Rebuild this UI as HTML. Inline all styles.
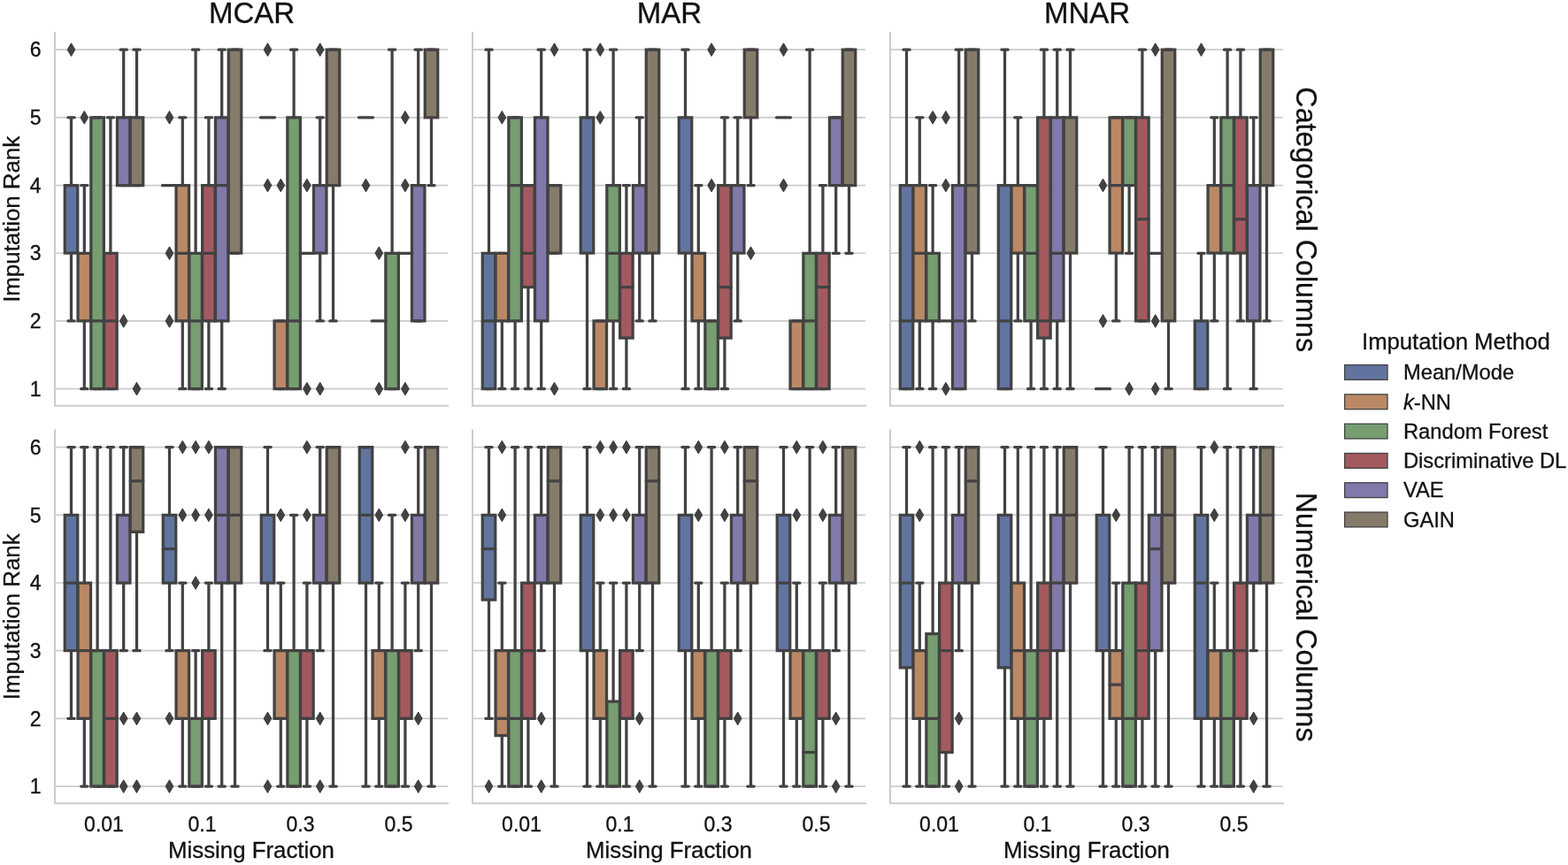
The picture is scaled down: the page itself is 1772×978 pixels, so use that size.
<!DOCTYPE html>
<html><head><meta charset="utf-8"><title>Imputation Rank boxplots</title>
<style>html,body{margin:0;padding:0;background:#fff;}svg{display:block;}</style>
</head><body>
<svg width="1772" height="978" viewBox="0 0 1772 978"><rect width="1772" height="978" fill="#ffffff"/><path d="M62 439.63H506M62 362.94H506M62 286.25H506M62 209.55H506M62 132.86H506M62 56.17H506M534 439.63H978M534 362.94H978M534 286.25H978M534 209.55H978M534 132.86H978M534 56.17H978M1006 439.63H1450M1006 362.94H1450M1006 286.25H1450M1006 209.55H1450M1006 132.86H1450M1006 56.17H1450M62 889.08H506M62 812.39H506M62 735.7H506M62 659H506M62 582.31H506M62 505.62H506M534 889.08H978M534 812.39H978M534 735.7H978M534 659H978M534 582.31H978M534 505.62H978M1006 889.08H1450M1006 812.39H1450M1006 735.7H1450M1006 659H1450M1006 582.31H1450M1006 505.62H1450" stroke="#cccccc" stroke-width="1.7" fill="none"/><path d="M62 37V458.8H506M534 37V458.8H978M1006 37V458.8H1450M62 486.45V908.25H506M534 486.45V908.25H978M1006 486.45V908.25H1450" stroke="#cccccc" stroke-width="2" fill="none" stroke-linejoin="miter" stroke-linecap="square"/><path d="M73.25 209.55h14.5v76.69h-14.5zM545.25 286.25h14.5v153.38h-14.5zM656.25 132.86h14.5v153.38h-14.5zM767.25 132.86h14.5v153.38h-14.5zM1017.25 209.55h14.5v230.07h-14.5zM1128.25 209.55h14.5v230.07h-14.5zM1350.25 362.94h14.5v76.69h-14.5zM73.25 582.31h14.5v153.38h-14.5zM184.25 582.31h14.5v76.69h-14.5zM295.25 582.31h14.5v76.69h-14.5zM406.25 505.62h14.5v153.38h-14.5zM545.25 582.31h14.5v95.86h-14.5zM656.25 582.31h14.5v153.38h-14.5zM767.25 582.31h14.5v153.38h-14.5zM878.25 582.31h14.5v153.38h-14.5zM1017.25 582.31h14.5v172.55h-14.5zM1128.25 582.31h14.5v172.55h-14.5zM1239.25 582.31h14.5v153.38h-14.5zM1350.25 582.31h14.5v230.07h-14.5z" fill="#6174a0" stroke="#424242" stroke-width="3.25" stroke-linejoin="miter"/><path d="M88.05 286.25h14.5v76.69h-14.5zM199.05 209.55h14.5v153.38h-14.5zM310.05 362.94h14.5v76.69h-14.5zM560.05 286.25h14.5v76.69h-14.5zM671.05 362.94h14.5v76.69h-14.5zM782.05 286.25h14.5v76.69h-14.5zM893.05 362.94h14.5v76.69h-14.5zM1032.05 209.55h14.5v153.38h-14.5zM1143.05 209.55h14.5v76.69h-14.5zM1254.05 132.86h14.5v153.38h-14.5zM1365.05 209.55h14.5v76.69h-14.5zM88.05 659h14.5v153.38h-14.5zM199.05 735.7h14.5v76.69h-14.5zM310.05 735.7h14.5v76.69h-14.5zM421.05 735.7h14.5v76.69h-14.5zM560.05 735.7h14.5v95.86h-14.5zM671.05 735.7h14.5v76.69h-14.5zM782.05 735.7h14.5v76.69h-14.5zM893.05 735.7h14.5v76.69h-14.5zM1032.05 735.7h14.5v76.69h-14.5zM1143.05 659h14.5v153.38h-14.5zM1254.05 735.7h14.5v76.69h-14.5zM1365.05 735.7h14.5v76.69h-14.5z" fill="#ba8864" stroke="#424242" stroke-width="3.25" stroke-linejoin="miter"/><path d="M102.85 132.86h14.5v306.76h-14.5zM213.85 286.25h14.5v153.38h-14.5zM324.85 132.86h14.5v306.76h-14.5zM435.85 286.25h14.5v153.38h-14.5zM574.85 132.86h14.5v230.07h-14.5zM685.85 209.55h14.5v153.38h-14.5zM796.85 362.94h14.5v76.69h-14.5zM907.85 286.25h14.5v153.38h-14.5zM1046.85 286.25h14.5v76.69h-14.5zM1157.85 209.55h14.5v153.38h-14.5zM1268.85 132.86h14.5v76.69h-14.5zM1379.85 132.86h14.5v153.38h-14.5zM102.85 735.7h14.5v153.38h-14.5zM213.85 812.39h14.5v76.69h-14.5zM324.85 735.7h14.5v153.38h-14.5zM435.85 735.7h14.5v153.38h-14.5zM574.85 735.7h14.5v153.38h-14.5zM685.85 793.21h14.5v95.86h-14.5zM796.85 735.7h14.5v153.38h-14.5zM907.85 735.7h14.5v153.38h-14.5zM1046.85 716.52h14.5v172.55h-14.5zM1157.85 735.7h14.5v153.38h-14.5zM1268.85 659h14.5v230.07h-14.5zM1379.85 735.7h14.5v153.38h-14.5z" fill="#769e71" stroke="#424242" stroke-width="3.25" stroke-linejoin="miter"/><path d="M117.65 286.25h14.5v153.38h-14.5zM228.65 209.55h14.5v153.38h-14.5zM589.65 209.55h14.5v115.04h-14.5zM700.65 286.25h14.5v95.86h-14.5zM811.65 209.55h14.5v172.55h-14.5zM922.65 286.25h14.5v153.38h-14.5zM1172.65 132.86h14.5v249.25h-14.5zM1283.65 132.86h14.5v230.07h-14.5zM1394.65 132.86h14.5v153.38h-14.5zM117.65 735.7h14.5v153.38h-14.5zM228.65 735.7h14.5v76.69h-14.5zM339.65 735.7h14.5v76.69h-14.5zM450.65 735.7h14.5v76.69h-14.5zM589.65 659h14.5v153.38h-14.5zM700.65 735.7h14.5v76.69h-14.5zM811.65 735.7h14.5v76.69h-14.5zM922.65 735.7h14.5v76.69h-14.5zM1061.65 659h14.5v191.73h-14.5zM1172.65 659h14.5v153.38h-14.5zM1283.65 659h14.5v153.38h-14.5zM1394.65 659h14.5v153.38h-14.5z" fill="#a35a5f" stroke="#424242" stroke-width="3.25" stroke-linejoin="miter"/><path d="M132.45 132.86h14.5v76.69h-14.5zM243.45 132.86h14.5v230.07h-14.5zM354.45 209.55h14.5v76.69h-14.5zM465.45 209.55h14.5v153.38h-14.5zM604.45 132.86h14.5v230.07h-14.5zM715.45 209.55h14.5v76.69h-14.5zM826.45 209.55h14.5v76.69h-14.5zM937.45 132.86h14.5v76.69h-14.5zM1076.45 209.55h14.5v230.07h-14.5zM1187.45 132.86h14.5v230.07h-14.5zM1409.45 209.55h14.5v153.38h-14.5zM132.45 582.31h14.5v76.69h-14.5zM243.45 505.62h14.5v153.38h-14.5zM354.45 582.31h14.5v76.69h-14.5zM465.45 582.31h14.5v76.69h-14.5zM604.45 582.31h14.5v76.69h-14.5zM715.45 582.31h14.5v76.69h-14.5zM826.45 582.31h14.5v76.69h-14.5zM937.45 582.31h14.5v76.69h-14.5zM1076.45 582.31h14.5v76.69h-14.5zM1187.45 582.31h14.5v153.38h-14.5zM1298.45 582.31h14.5v153.38h-14.5zM1409.45 582.31h14.5v76.69h-14.5z" fill="#8079aa" stroke="#424242" stroke-width="3.25" stroke-linejoin="miter"/><path d="M147.25 132.86h14.5v76.69h-14.5zM258.25 56.17h14.5v230.07h-14.5zM369.25 56.17h14.5v153.38h-14.5zM480.25 56.17h14.5v76.69h-14.5zM619.25 209.55h14.5v76.69h-14.5zM730.25 56.17h14.5v230.07h-14.5zM841.25 56.17h14.5v76.69h-14.5zM952.25 56.17h14.5v153.38h-14.5zM1091.25 56.17h14.5v230.07h-14.5zM1202.25 132.86h14.5v153.38h-14.5zM1313.25 56.17h14.5v306.76h-14.5zM1424.25 56.17h14.5v153.38h-14.5zM147.25 505.62h14.5v95.86h-14.5zM258.25 505.62h14.5v153.38h-14.5zM369.25 505.62h14.5v153.38h-14.5zM480.25 505.62h14.5v153.38h-14.5zM619.25 505.62h14.5v153.38h-14.5zM730.25 505.62h14.5v153.38h-14.5zM841.25 505.62h14.5v153.38h-14.5zM952.25 505.62h14.5v153.38h-14.5zM1091.25 505.62h14.5v153.38h-14.5zM1202.25 505.62h14.5v153.38h-14.5zM1313.25 505.62h14.5v153.38h-14.5zM1424.25 505.62h14.5v153.38h-14.5z" fill="#867b6a" stroke="#424242" stroke-width="3.25" stroke-linejoin="miter"/><path d="M80.5 286.25V362.94M80.5 209.55V132.86M76.87 362.94H84.13M76.87 132.86H84.13M95.3 362.94V439.63M95.3 286.25V209.55M91.67 439.63H98.93M91.67 209.55H98.93M106.47 439.63H113.73M106.47 132.86H113.73M102.85 362.94H117.35M124.9 286.25V132.86M121.27 439.63H128.53M121.27 132.86H128.53M117.65 362.94H132.15M139.7 132.86V56.17M136.07 209.55H143.33M136.07 56.17H143.33M154.5 132.86V56.17M150.87 209.55H158.13M150.87 56.17H158.13M183.45 209.55H199.55M187.87 209.55H195.13M187.87 209.55H195.13M206.3 362.94V439.63M206.3 209.55V132.86M202.67 439.63H209.93M202.67 132.86H209.93M199.05 286.25H213.55M221.1 286.25V56.17M217.47 439.63H224.73M217.47 56.17H224.73M213.85 362.94H228.35M235.9 362.94V439.63M235.9 209.55V132.86M232.27 439.63H239.53M232.27 132.86H239.53M228.65 286.25H243.15M250.7 362.94V439.63M250.7 132.86V56.17M247.07 439.63H254.33M247.07 56.17H254.33M243.45 209.55H257.95M261.87 286.25H269.13M261.87 56.17H269.13M294.45 132.86H310.55M298.87 132.86H306.13M298.87 132.86H306.13M313.67 439.63H320.93M313.67 362.94H320.93M332.1 132.86V56.17M328.47 439.63H335.73M328.47 56.17H335.73M324.85 362.94H339.35M338.85 286.25H354.95M343.27 286.25H350.53M343.27 286.25H350.53M361.7 286.25V362.94M361.7 209.55V132.86M358.07 362.94H365.33M358.07 132.86H365.33M376.5 209.55V362.94M372.87 362.94H380.13M372.87 56.17H380.13M405.45 132.86H421.55M409.87 132.86H417.13M409.87 132.86H417.13M420.25 362.94H436.35M424.67 362.94H431.93M424.67 362.94H431.93M443.1 286.25V56.17M439.47 439.63H446.73M439.47 56.17H446.73M449.85 286.25H465.95M454.27 286.25H461.53M454.27 286.25H461.53M472.7 209.55V56.17M469.07 362.94H476.33M469.07 56.17H476.33M487.5 132.86V209.55M483.87 209.55H491.13M483.87 56.17H491.13M552.5 286.25V56.17M548.87 439.63H556.13M548.87 56.17H556.13M545.25 362.94H559.75M567.3 362.94V439.63M563.67 439.63H570.93M563.67 286.25H570.93M582.1 362.94V439.63M578.47 439.63H585.73M578.47 132.86H585.73M574.85 209.55H589.35M596.9 324.59V439.63M593.27 439.63H600.53M593.27 209.55H600.53M589.65 286.25H604.15M611.7 362.94V439.63M611.7 132.86V56.17M608.07 439.63H615.33M608.07 56.17H615.33M622.87 286.25H630.13M622.87 209.55H630.13M663.5 286.25V439.63M663.5 132.86V56.17M659.87 439.63H667.13M659.87 56.17H667.13M674.67 439.63H681.93M674.67 362.94H681.93M693.1 362.94V439.63M693.1 209.55V56.17M689.47 439.63H696.73M689.47 56.17H696.73M685.85 286.25H700.35M707.9 382.11V439.63M707.9 286.25V209.55M704.27 439.63H711.53M704.27 209.55H711.53M700.65 324.59H715.15M722.7 286.25V362.94M722.7 209.55V132.86M719.07 362.94H726.33M719.07 132.86H726.33M737.5 286.25V362.94M733.87 362.94H741.13M733.87 56.17H741.13M774.5 286.25V439.63M774.5 132.86V56.17M770.87 439.63H778.13M770.87 56.17H778.13M789.3 362.94V439.63M789.3 286.25V209.55M785.67 439.63H792.93M785.67 209.55H792.93M800.47 439.63H807.73M800.47 362.94H807.73M818.9 382.11V439.63M818.9 209.55V132.86M815.27 439.63H822.53M815.27 132.86H822.53M811.65 324.59H826.15M833.7 286.25V362.94M833.7 209.55V132.86M830.07 362.94H837.33M830.07 132.86H837.33M848.5 132.86V209.55M844.87 209.55H852.13M844.87 56.17H852.13M877.45 132.86H893.55M881.87 132.86H889.13M881.87 132.86H889.13M896.67 439.63H903.93M896.67 362.94H903.93M915.1 286.25V56.17M911.47 439.63H918.73M911.47 56.17H918.73M907.85 362.94H922.35M929.9 286.25V209.55M926.27 439.63H933.53M926.27 209.55H933.53M922.65 324.59H937.15M944.7 209.55V286.25M941.07 286.25H948.33M941.07 132.86H948.33M959.5 209.55V286.25M955.87 286.25H963.13M955.87 56.17H963.13M1024.5 209.55V56.17M1020.87 439.63H1028.13M1020.87 56.17H1028.13M1017.25 362.94H1031.75M1039.3 362.94V439.63M1039.3 209.55V132.86M1035.67 439.63H1042.93M1035.67 132.86H1042.93M1032.05 286.25H1046.55M1054.1 362.94V439.63M1054.1 286.25V209.55M1050.47 439.63H1057.73M1050.47 209.55H1057.73M1060.85 362.94H1076.95M1065.27 362.94H1072.53M1065.27 362.94H1072.53M1083.7 209.55V56.17M1080.07 439.63H1087.33M1080.07 56.17H1087.33M1076.45 362.94H1090.95M1098.5 286.25V362.94M1094.87 362.94H1102.13M1094.87 56.17H1102.13M1091.25 209.55H1105.75M1135.5 209.55V56.17M1131.87 439.63H1139.13M1131.87 56.17H1139.13M1128.25 362.94H1142.75M1150.3 286.25V362.94M1150.3 209.55V132.86M1146.67 362.94H1153.93M1146.67 132.86H1153.93M1165.1 362.94V439.63M1161.47 439.63H1168.73M1161.47 209.55H1168.73M1157.85 286.25H1172.35M1179.9 382.11V439.63M1179.9 132.86V56.17M1176.27 439.63H1183.53M1176.27 56.17H1183.53M1172.65 362.94H1187.15M1194.7 362.94V439.63M1194.7 132.86V56.17M1191.07 439.63H1198.33M1191.07 56.17H1198.33M1187.45 286.25H1201.95M1209.5 286.25V439.63M1209.5 132.86V56.17M1205.87 439.63H1213.13M1205.87 56.17H1213.13M1238.45 439.63H1254.55M1242.87 439.63H1250.13M1242.87 439.63H1250.13M1261.3 286.25V362.94M1257.67 362.94H1264.93M1257.67 132.86H1264.93M1254.05 209.55H1268.55M1276.1 209.55V286.25M1272.47 286.25H1279.73M1272.47 132.86H1279.73M1290.9 132.86V56.17M1287.27 362.94H1294.53M1287.27 56.17H1294.53M1283.65 247.9H1298.15M1297.65 286.25H1313.75M1302.07 286.25H1309.33M1302.07 286.25H1309.33M1320.5 362.94V439.63M1316.87 439.63H1324.13M1316.87 56.17H1324.13M1357.5 362.94V286.25M1353.87 439.63H1361.13M1353.87 286.25H1361.13M1372.3 286.25V362.94M1372.3 209.55V132.86M1368.67 362.94H1375.93M1368.67 132.86H1375.93M1387.1 286.25V439.63M1387.1 132.86V56.17M1383.47 439.63H1390.73M1383.47 56.17H1390.73M1379.85 209.55H1394.35M1401.9 286.25V362.94M1401.9 132.86V56.17M1398.27 362.94H1405.53M1398.27 56.17H1405.53M1394.65 247.9H1409.15M1416.7 362.94V439.63M1416.7 209.55V132.86M1413.07 439.63H1420.33M1413.07 132.86H1420.33M1431.5 209.55V362.94M1427.87 362.94H1435.13M1427.87 56.17H1435.13M80.5 735.7V812.39M80.5 582.31V505.62M76.87 812.39H84.13M76.87 505.62H84.13M73.25 659H87.75M95.3 812.39V889.08M95.3 659V505.62M91.67 889.08H98.93M91.67 505.62H98.93M88.05 735.7H102.55M110.1 735.7V505.62M106.47 889.08H113.73M106.47 505.62H113.73M124.9 735.7V505.62M121.27 889.08H128.53M121.27 505.62H128.53M117.65 812.39H132.15M139.7 659V735.7M139.7 582.31V505.62M136.07 735.7H143.33M136.07 505.62H143.33M154.5 601.49V735.7M150.87 735.7H158.13M150.87 505.62H158.13M147.25 543.97H161.75M191.5 659V735.7M191.5 582.31V505.62M187.87 735.7H195.13M187.87 505.62H195.13M184.25 620.66H198.75M206.3 812.39V889.08M206.3 735.7V659M202.67 889.08H209.93M202.67 659H209.93M221.1 812.39V735.7M217.47 889.08H224.73M217.47 735.7H224.73M235.9 812.39V889.08M235.9 735.7V659M232.27 889.08H239.53M232.27 659H239.53M250.7 659V889.08M247.07 889.08H254.33M247.07 505.62H254.33M243.45 582.31H257.95M265.5 659V889.08M261.87 889.08H269.13M261.87 505.62H269.13M258.25 582.31H272.75M302.5 659V735.7M302.5 582.31V505.62M298.87 735.7H306.13M298.87 505.62H306.13M317.3 812.39V889.08M317.3 735.7V659M313.67 889.08H320.93M313.67 659H320.93M332.1 735.7V582.31M328.47 889.08H335.73M328.47 582.31H335.73M346.9 812.39V889.08M346.9 735.7V659M343.27 889.08H350.53M343.27 659H350.53M361.7 659V735.7M361.7 582.31V505.62M358.07 735.7H365.33M358.07 505.62H365.33M376.5 659V889.08M372.87 889.08H380.13M372.87 505.62H380.13M413.5 659V889.08M409.87 889.08H417.13M409.87 505.62H417.13M406.25 582.31H420.75M428.3 812.39V889.08M428.3 735.7V659M424.67 889.08H431.93M424.67 659H431.93M443.1 735.7V582.31M439.47 889.08H446.73M439.47 582.31H446.73M457.9 812.39V889.08M457.9 735.7V659M454.27 889.08H461.53M454.27 659H461.53M472.7 659V735.7M472.7 582.31V505.62M469.07 735.7H476.33M469.07 505.62H476.33M487.5 659V889.08M483.87 889.08H491.13M483.87 505.62H491.13M552.5 678.18V812.39M552.5 582.31V505.62M548.87 812.39H556.13M548.87 505.62H556.13M545.25 620.66H559.75M567.3 831.56V889.08M567.3 735.7V659M563.67 889.08H570.93M563.67 659H570.93M560.05 812.39H574.55M582.1 735.7V505.62M578.47 889.08H585.73M578.47 505.62H585.73M574.85 812.39H589.35M596.9 812.39V889.08M596.9 659V505.62M593.27 889.08H600.53M593.27 505.62H600.53M589.65 735.7H604.15M611.7 659V735.7M611.7 582.31V505.62M608.07 735.7H615.33M608.07 505.62H615.33M626.5 659V889.08M622.87 889.08H630.13M622.87 505.62H630.13M619.25 543.97H633.75M663.5 735.7V889.08M663.5 582.31V505.62M659.87 889.08H667.13M659.87 505.62H667.13M678.3 812.39V889.08M678.3 735.7V659M674.67 889.08H681.93M674.67 659H681.93M693.1 793.21V659M689.47 889.08H696.73M689.47 659H696.73M707.9 812.39V889.08M707.9 735.7V659M704.27 889.08H711.53M704.27 659H711.53M722.7 659V735.7M722.7 582.31V505.62M719.07 735.7H726.33M719.07 505.62H726.33M737.5 659V889.08M733.87 889.08H741.13M733.87 505.62H741.13M730.25 543.97H744.75M774.5 735.7V889.08M774.5 582.31V505.62M770.87 889.08H778.13M770.87 505.62H778.13M789.3 812.39V889.08M789.3 735.7V659M785.67 889.08H792.93M785.67 659H792.93M804.1 735.7V505.62M800.47 889.08H807.73M800.47 505.62H807.73M818.9 812.39V889.08M818.9 735.7V659M815.27 889.08H822.53M815.27 659H822.53M833.7 659V735.7M833.7 582.31V505.62M830.07 735.7H837.33M830.07 505.62H837.33M848.5 659V889.08M844.87 889.08H852.13M844.87 505.62H852.13M841.25 543.97H855.75M885.5 735.7V889.08M885.5 582.31V505.62M881.87 889.08H889.13M881.87 505.62H889.13M878.25 659H892.75M900.3 812.39V889.08M900.3 735.7V659M896.67 889.08H903.93M896.67 659H903.93M915.1 735.7V505.62M911.47 889.08H918.73M911.47 505.62H918.73M907.85 850.73H922.35M929.9 812.39V889.08M929.9 735.7V659M926.27 889.08H933.53M926.27 659H933.53M944.7 659V735.7M944.7 582.31V505.62M941.07 735.7H948.33M941.07 505.62H948.33M959.5 659V889.08M955.87 889.08H963.13M955.87 505.62H963.13M1024.5 754.87V889.08M1024.5 582.31V505.62M1020.87 889.08H1028.13M1020.87 505.62H1028.13M1017.25 659H1031.75M1039.3 812.39V889.08M1039.3 735.7V659M1035.67 889.08H1042.93M1035.67 659H1042.93M1054.1 716.52V505.62M1050.47 889.08H1057.73M1050.47 505.62H1057.73M1046.85 812.39H1061.35M1068.9 850.73V889.08M1068.9 659V505.62M1065.27 889.08H1072.53M1065.27 505.62H1072.53M1061.65 735.7H1076.15M1083.7 659V735.7M1083.7 582.31V505.62M1080.07 735.7H1087.33M1080.07 505.62H1087.33M1098.5 659V889.08M1094.87 889.08H1102.13M1094.87 505.62H1102.13M1091.25 543.97H1105.75M1135.5 754.87V889.08M1135.5 582.31V505.62M1131.87 889.08H1139.13M1131.87 505.62H1139.13M1150.3 812.39V889.08M1150.3 659V505.62M1146.67 889.08H1153.93M1146.67 505.62H1153.93M1143.05 735.7H1157.55M1165.1 735.7V505.62M1161.47 889.08H1168.73M1161.47 505.62H1168.73M1157.85 812.39H1172.35M1179.9 812.39V889.08M1179.9 659V505.62M1176.27 889.08H1183.53M1176.27 505.62H1183.53M1172.65 735.7H1187.15M1194.7 735.7V889.08M1194.7 582.31V505.62M1191.07 889.08H1198.33M1191.07 505.62H1198.33M1187.45 659H1201.95M1209.5 659V889.08M1205.87 889.08H1213.13M1205.87 505.62H1213.13M1202.25 582.31H1216.75M1246.5 735.7V889.08M1246.5 582.31V505.62M1242.87 889.08H1250.13M1242.87 505.62H1250.13M1261.3 812.39V889.08M1261.3 735.7V659M1257.67 889.08H1264.93M1257.67 659H1264.93M1254.05 774.04H1268.55M1276.1 659V505.62M1272.47 889.08H1279.73M1272.47 505.62H1279.73M1268.85 812.39H1283.35M1290.9 812.39V889.08M1290.9 659V505.62M1287.27 889.08H1294.53M1287.27 505.62H1294.53M1283.65 735.7H1298.15M1305.7 735.7V889.08M1305.7 582.31V505.62M1302.07 889.08H1309.33M1302.07 505.62H1309.33M1298.45 620.66H1312.95M1320.5 659V889.08M1316.87 889.08H1324.13M1316.87 505.62H1324.13M1313.25 582.31H1327.75M1357.5 812.39V889.08M1357.5 582.31V505.62M1353.87 889.08H1361.13M1353.87 505.62H1361.13M1350.25 659H1364.75M1372.3 812.39V889.08M1372.3 735.7V659M1368.67 889.08H1375.93M1368.67 659H1375.93M1387.1 735.7V505.62M1383.47 889.08H1390.73M1383.47 505.62H1390.73M1379.85 812.39H1394.35M1401.9 812.39V889.08M1401.9 659V505.62M1398.27 889.08H1405.53M1398.27 505.62H1405.53M1394.65 735.7H1409.15M1416.7 659V735.7M1416.7 582.31V505.62M1413.07 735.7H1420.33M1413.07 505.62H1420.33M1431.5 659V889.08M1427.87 889.08H1435.13M1427.87 505.62H1435.13M1424.25 582.31H1438.75" stroke="#424242" stroke-width="3.25" stroke-linecap="round" fill="none"/><path d="M80.5 48.82l4.35 7.35l-4.35 7.35l-4.35 -7.35zM95.3 125.51l4.35 7.35l-4.35 7.35l-4.35 -7.35zM139.7 355.59l4.35 7.35l-4.35 7.35l-4.35 -7.35zM154.5 432.28l4.35 7.35l-4.35 7.35l-4.35 -7.35zM191.5 125.51l4.35 7.35l-4.35 7.35l-4.35 -7.35zM191.5 278.9l4.35 7.35l-4.35 7.35l-4.35 -7.35zM191.5 355.59l4.35 7.35l-4.35 7.35l-4.35 -7.35zM302.5 48.82l4.35 7.35l-4.35 7.35l-4.35 -7.35zM302.5 202.2l4.35 7.35l-4.35 7.35l-4.35 -7.35zM317.3 202.2l4.35 7.35l-4.35 7.35l-4.35 -7.35zM346.9 202.2l4.35 7.35l-4.35 7.35l-4.35 -7.35zM346.9 432.28l4.35 7.35l-4.35 7.35l-4.35 -7.35zM361.7 48.82l4.35 7.35l-4.35 7.35l-4.35 -7.35zM361.7 432.28l4.35 7.35l-4.35 7.35l-4.35 -7.35zM413.5 202.2l4.35 7.35l-4.35 7.35l-4.35 -7.35zM428.3 278.9l4.35 7.35l-4.35 7.35l-4.35 -7.35zM428.3 432.28l4.35 7.35l-4.35 7.35l-4.35 -7.35zM457.9 125.51l4.35 7.35l-4.35 7.35l-4.35 -7.35zM457.9 202.2l4.35 7.35l-4.35 7.35l-4.35 -7.35zM457.9 432.28l4.35 7.35l-4.35 7.35l-4.35 -7.35zM567.3 125.51l4.35 7.35l-4.35 7.35l-4.35 -7.35zM626.5 48.82l4.35 7.35l-4.35 7.35l-4.35 -7.35zM626.5 432.28l4.35 7.35l-4.35 7.35l-4.35 -7.35zM678.3 48.82l4.35 7.35l-4.35 7.35l-4.35 -7.35zM678.3 125.51l4.35 7.35l-4.35 7.35l-4.35 -7.35zM804.1 48.82l4.35 7.35l-4.35 7.35l-4.35 -7.35zM804.1 202.2l4.35 7.35l-4.35 7.35l-4.35 -7.35zM848.5 278.9l4.35 7.35l-4.35 7.35l-4.35 -7.35zM885.5 48.82l4.35 7.35l-4.35 7.35l-4.35 -7.35zM885.5 202.2l4.35 7.35l-4.35 7.35l-4.35 -7.35zM1054.1 125.51l4.35 7.35l-4.35 7.35l-4.35 -7.35zM1068.9 125.51l4.35 7.35l-4.35 7.35l-4.35 -7.35zM1068.9 202.2l4.35 7.35l-4.35 7.35l-4.35 -7.35zM1068.9 432.28l4.35 7.35l-4.35 7.35l-4.35 -7.35zM1246.5 202.2l4.35 7.35l-4.35 7.35l-4.35 -7.35zM1246.5 355.59l4.35 7.35l-4.35 7.35l-4.35 -7.35zM1276.1 432.28l4.35 7.35l-4.35 7.35l-4.35 -7.35zM1305.7 48.82l4.35 7.35l-4.35 7.35l-4.35 -7.35zM1305.7 355.59l4.35 7.35l-4.35 7.35l-4.35 -7.35zM1305.7 432.28l4.35 7.35l-4.35 7.35l-4.35 -7.35zM1357.5 48.82l4.35 7.35l-4.35 7.35l-4.35 -7.35zM139.7 805.04l4.35 7.35l-4.35 7.35l-4.35 -7.35zM139.7 881.73l4.35 7.35l-4.35 7.35l-4.35 -7.35zM154.5 805.04l4.35 7.35l-4.35 7.35l-4.35 -7.35zM154.5 881.73l4.35 7.35l-4.35 7.35l-4.35 -7.35zM191.5 805.04l4.35 7.35l-4.35 7.35l-4.35 -7.35zM191.5 881.73l4.35 7.35l-4.35 7.35l-4.35 -7.35zM206.3 498.27l4.35 7.35l-4.35 7.35l-4.35 -7.35zM206.3 574.96l4.35 7.35l-4.35 7.35l-4.35 -7.35zM221.1 498.27l4.35 7.35l-4.35 7.35l-4.35 -7.35zM221.1 574.96l4.35 7.35l-4.35 7.35l-4.35 -7.35zM221.1 651.65l4.35 7.35l-4.35 7.35l-4.35 -7.35zM235.9 498.27l4.35 7.35l-4.35 7.35l-4.35 -7.35zM235.9 574.96l4.35 7.35l-4.35 7.35l-4.35 -7.35zM302.5 805.04l4.35 7.35l-4.35 7.35l-4.35 -7.35zM302.5 881.73l4.35 7.35l-4.35 7.35l-4.35 -7.35zM317.3 574.96l4.35 7.35l-4.35 7.35l-4.35 -7.35zM346.9 498.27l4.35 7.35l-4.35 7.35l-4.35 -7.35zM346.9 574.96l4.35 7.35l-4.35 7.35l-4.35 -7.35zM361.7 805.04l4.35 7.35l-4.35 7.35l-4.35 -7.35zM361.7 881.73l4.35 7.35l-4.35 7.35l-4.35 -7.35zM428.3 574.96l4.35 7.35l-4.35 7.35l-4.35 -7.35zM457.9 498.27l4.35 7.35l-4.35 7.35l-4.35 -7.35zM457.9 574.96l4.35 7.35l-4.35 7.35l-4.35 -7.35zM472.7 805.04l4.35 7.35l-4.35 7.35l-4.35 -7.35zM472.7 881.73l4.35 7.35l-4.35 7.35l-4.35 -7.35zM552.5 881.73l4.35 7.35l-4.35 7.35l-4.35 -7.35zM567.3 498.27l4.35 7.35l-4.35 7.35l-4.35 -7.35zM567.3 574.96l4.35 7.35l-4.35 7.35l-4.35 -7.35zM611.7 805.04l4.35 7.35l-4.35 7.35l-4.35 -7.35zM611.7 881.73l4.35 7.35l-4.35 7.35l-4.35 -7.35zM678.3 498.27l4.35 7.35l-4.35 7.35l-4.35 -7.35zM678.3 574.96l4.35 7.35l-4.35 7.35l-4.35 -7.35zM693.1 498.27l4.35 7.35l-4.35 7.35l-4.35 -7.35zM693.1 574.96l4.35 7.35l-4.35 7.35l-4.35 -7.35zM707.9 498.27l4.35 7.35l-4.35 7.35l-4.35 -7.35zM707.9 574.96l4.35 7.35l-4.35 7.35l-4.35 -7.35zM722.7 805.04l4.35 7.35l-4.35 7.35l-4.35 -7.35zM722.7 881.73l4.35 7.35l-4.35 7.35l-4.35 -7.35zM789.3 498.27l4.35 7.35l-4.35 7.35l-4.35 -7.35zM789.3 574.96l4.35 7.35l-4.35 7.35l-4.35 -7.35zM818.9 498.27l4.35 7.35l-4.35 7.35l-4.35 -7.35zM818.9 574.96l4.35 7.35l-4.35 7.35l-4.35 -7.35zM833.7 805.04l4.35 7.35l-4.35 7.35l-4.35 -7.35zM900.3 498.27l4.35 7.35l-4.35 7.35l-4.35 -7.35zM900.3 574.96l4.35 7.35l-4.35 7.35l-4.35 -7.35zM929.9 498.27l4.35 7.35l-4.35 7.35l-4.35 -7.35zM929.9 574.96l4.35 7.35l-4.35 7.35l-4.35 -7.35zM944.7 805.04l4.35 7.35l-4.35 7.35l-4.35 -7.35zM944.7 881.73l4.35 7.35l-4.35 7.35l-4.35 -7.35zM1039.3 498.27l4.35 7.35l-4.35 7.35l-4.35 -7.35zM1039.3 574.96l4.35 7.35l-4.35 7.35l-4.35 -7.35zM1083.7 805.04l4.35 7.35l-4.35 7.35l-4.35 -7.35zM1083.7 881.73l4.35 7.35l-4.35 7.35l-4.35 -7.35zM1261.3 574.96l4.35 7.35l-4.35 7.35l-4.35 -7.35zM1372.3 498.27l4.35 7.35l-4.35 7.35l-4.35 -7.35zM1372.3 574.96l4.35 7.35l-4.35 7.35l-4.35 -7.35zM1416.7 805.04l4.35 7.35l-4.35 7.35l-4.35 -7.35zM1416.7 881.73l4.35 7.35l-4.35 7.35l-4.35 -7.35z" fill="#424242" stroke="#3a3a3a" stroke-width="1" stroke-linejoin="miter"/><rect x="1519.6" y="412.6" width="48.4" height="16.8" fill="#6174a0" stroke="#424242" stroke-width="1.3"/><rect x="1519.6" y="445.9" width="48.4" height="16.8" fill="#ba8864" stroke="#424242" stroke-width="1.3"/><rect x="1519.6" y="479.2" width="48.4" height="16.8" fill="#769e71" stroke="#424242" stroke-width="1.3"/><rect x="1519.6" y="512.5" width="48.4" height="16.8" fill="#a35a5f" stroke="#424242" stroke-width="1.3"/><rect x="1519.6" y="545.8" width="48.4" height="16.8" fill="#8079aa" stroke="#424242" stroke-width="1.3"/><rect x="1519.6" y="579.1" width="48.4" height="16.8" fill="#867b6a" stroke="#424242" stroke-width="1.3"/><g fill="#111111" stroke="#111111" stroke-width="0.3" font-family="'Liberation Sans', Arial, sans-serif"><text x="284.5" y="25.9" font-size="33" text-anchor="middle">MCAR</text><text x="756.5" y="25.9" font-size="33" text-anchor="middle">MAR</text><text x="1228.5" y="25.9" font-size="33" text-anchor="middle">MNAR</text><text x="46.6" y="447.83" font-size="23" text-anchor="end">1</text><text x="46.6" y="371.14" font-size="23" text-anchor="end">2</text><text x="46.6" y="294.45" font-size="23" text-anchor="end">3</text><text x="46.6" y="217.75" font-size="23" text-anchor="end">4</text><text x="46.6" y="141.06" font-size="23" text-anchor="end">5</text><text x="46.6" y="64.37" font-size="23" text-anchor="end">6</text><text transform="translate(21.6 247.9) rotate(-90)" font-size="25.8" text-anchor="middle">Imputation Rank</text><text x="46.6" y="897.28" font-size="23" text-anchor="end">1</text><text x="46.6" y="820.59" font-size="23" text-anchor="end">2</text><text x="46.6" y="743.9" font-size="23" text-anchor="end">3</text><text x="46.6" y="667.2" font-size="23" text-anchor="end">4</text><text x="46.6" y="590.51" font-size="23" text-anchor="end">5</text><text x="46.6" y="513.82" font-size="23" text-anchor="end">6</text><text transform="translate(21.6 697.35) rotate(-90)" font-size="25.8" text-anchor="middle">Imputation Rank</text><text x="117.5" y="940" font-size="23" text-anchor="middle">0.01</text><text x="228.5" y="940" font-size="23" text-anchor="middle">0.1</text><text x="339.5" y="940" font-size="23" text-anchor="middle">0.3</text><text x="450.5" y="940" font-size="23" text-anchor="middle">0.5</text><text x="284" y="969.8" font-size="25.8" text-anchor="middle">Missing Fraction</text><text x="589.5" y="940" font-size="23" text-anchor="middle">0.01</text><text x="700.5" y="940" font-size="23" text-anchor="middle">0.1</text><text x="811.5" y="940" font-size="23" text-anchor="middle">0.3</text><text x="922.5" y="940" font-size="23" text-anchor="middle">0.5</text><text x="756" y="969.8" font-size="25.8" text-anchor="middle">Missing Fraction</text><text x="1061.5" y="940" font-size="23" text-anchor="middle">0.01</text><text x="1172.5" y="940" font-size="23" text-anchor="middle">0.1</text><text x="1283.5" y="940" font-size="23" text-anchor="middle">0.3</text><text x="1394.5" y="940" font-size="23" text-anchor="middle">0.5</text><text x="1228" y="969.8" font-size="25.8" text-anchor="middle">Missing Fraction</text><text transform="translate(1465 248.2) rotate(90)" font-size="32.3" text-anchor="middle">Categorical Columns</text><text transform="translate(1465 697.65) rotate(90)" font-size="32.3" text-anchor="middle">Numerical Columns</text><text x="1645.4" y="395.3" font-size="25.7" text-anchor="middle">Imputation Method</text><text x="1586" y="429.2" font-size="23.7" >Mean/Mode</text><text x="1586" y="462.5" font-size="23.7" ><tspan font-style="italic">k</tspan>-NN</text><text x="1586" y="495.8" font-size="23.7" >Random Forest</text><text x="1586" y="529.1" font-size="23.7" >Discriminative DL</text><text x="1586" y="562.4" font-size="23.7" >VAE</text><text x="1586" y="595.7" font-size="23.7" >GAIN</text></g></svg>
</body></html>
